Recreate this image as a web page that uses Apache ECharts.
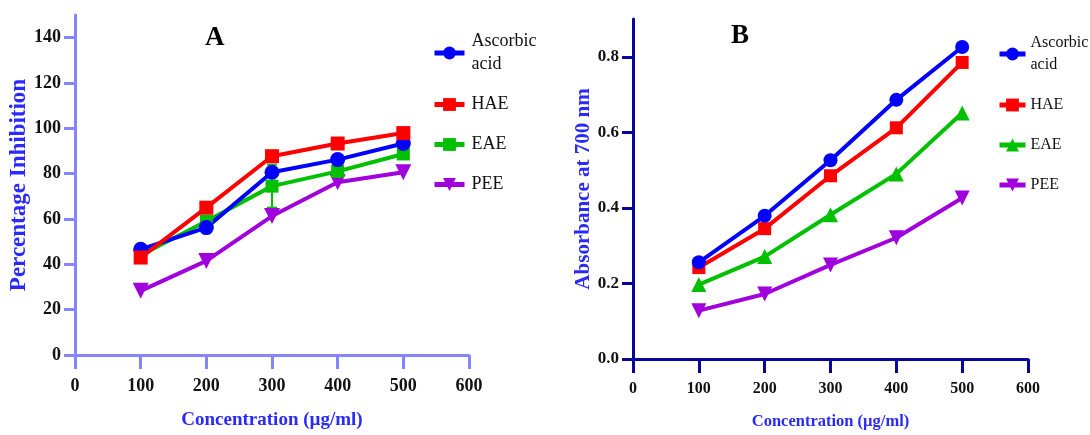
<!DOCTYPE html>
<html>
<head>
<meta charset="utf-8">
<script src="https://cdn.jsdelivr.net/npm/echarts@6/dist/echarts.min.js"></script>
<style>
html,body{margin:0;padding:0;background:#fff;}
#chart{width:1090px;height:435px;}
</style>
</head>
<body>
<div id="chart"></div>
<script>
// ---- data ----
var concentrations = [100, 200, 300, 400, 500];
var xTicks = [0, 100, 200, 300, 400, 500, 600];

// Panel A: Percentage inhibition
var ascorbicA = [46.6, 56.2, 80.6, 86.2, 93.3];
var haeA = [43.0, 65.0, 87.7, 93.3, 97.9];
var eaeA = [44.0, 59.0, 74.5, 81.0, 88.7];
var eaeErrA = [0.8, 1.2, 9.5, 1.0, 1.0];
var peeA = [28.3, 41.5, 61.3, 76.2, 80.6];
var yTicksA = [0, 20, 40, 60, 80, 100, 120, 140];

// Panel B: Absorbance at 700 nm
var ascorbicB = [0.256, 0.379, 0.526, 0.686, 0.826];
var haeB = [0.242, 0.345, 0.485, 0.612, 0.785];
var eaeB = [0.197, 0.271, 0.382, 0.490, 0.651];
var peeB = [0.128, 0.172, 0.249, 0.321, 0.426];
var yTicksB = [0, 0.2, 0.4, 0.6, 0.8];

var legendNames = ['Ascorbic acid', 'HAE', 'EAE', 'PEE'];

// ---- styles ----
var C_BLUE = '#0000ff', C_RED = '#ff0000', C_GREEN = '#00c000', C_PURPLE = '#a000dc';
var SERIF = '"Liberation Serif", "Times New Roman", serif';
var axisColA = '#8585ff', axisColB = '#06069a', titleCol = '#2a2aff';

function pairs(vals) { return concentrations.map(function (c, i) { return [c, vals[i]]; }); }

function lineSeries(name, vals, color, symbol, size, xi, rot) {
  return {
    name: name, type: 'line', xAxisIndex: xi, yAxisIndex: xi,
    data: pairs(vals), symbol: symbol, symbolSize: size, symbolRotate: rot || 0,
    lineStyle: { color: color, width: 4 },
    itemStyle: { color: color },
    emphasis: { disabled: true }, animation: false, z: 3
  };
}

function xAxis(gi, col, fs, nfs) {
  return {
    type: 'value', gridIndex: gi, min: 0, max: 600, interval: 100,
    name: 'Concentration (µg/ml)', nameLocation: 'middle', nameGap: gi === 0 ? 56 : 54,
    nameTextStyle: { color: titleCol, fontFamily: SERIF, fontWeight: 'bold', fontSize: nfs },
    axisLine: { lineStyle: { color: col, width: 3 } },
    axisTick: { length: 14, lineStyle: { color: col, width: 3 } },
    axisLabel: { color: '#111', fontFamily: SERIF, fontWeight: 'bold', fontSize: fs, margin: 22 },
    splitLine: { show: false }
  };
}

function yAxis(gi, col, max, ticks, name, fs, nfs, gap, fmt) {
  return {
    type: 'value', gridIndex: gi, min: 0, max: max,
    name: name, nameLocation: 'middle', nameGap: gap,
    nameTextStyle: { color: titleCol, fontFamily: SERIF, fontWeight: 'bold', fontSize: nfs },
    axisLine: { onZero: false, lineStyle: { color: col, width: 3 } },
    axisTick: { length: 11, customValues: ticks, lineStyle: { color: col, width: 3 } },
    axisLabel: { customValues: ticks, color: '#111', fontFamily: SERIF, fontWeight: 'bold', fontSize: fs, margin: 14, formatter: fmt },
    splitLine: { show: false }
  };
}

function legend(left, top, sfx, fs, gap, iw, pad, lh) {
  return {
    orient: 'vertical', left: left, top: top, itemWidth: iw, itemHeight: 16, itemGap: gap,
    data: legendNames.map(function (n) { return n + sfx; }),
    formatter: function (n) { n = n.trim(); return n === 'Ascorbic acid' ? 'Ascorbic\nacid' : n; },
    textStyle: { fontFamily: SERIF, fontSize: fs, color: '#111', lineHeight: lh, padding: [0, 0, 0, pad] },
    lineStyle: { width: 5 },
    selectedMode: false
  };
}

var option = {
  backgroundColor: '#ffffff',
  animation: false,
  title: [
    { text: 'A', left: 200, top: 20, textStyle: { fontFamily: SERIF, fontWeight: 'bold', fontSize: 27, color: '#000' } },
    { text: 'B', left: 726, top: 18, textStyle: { fontFamily: SERIF, fontWeight: 'bold', fontSize: 27, color: '#000' } }
  ],
  grid: [
    { left: 75, top: 15, width: 394, height: 341 },
    { left: 633, top: 19, width: 395, height: 343 }
  ],
  legend: [legend(427, 25, '', 18, 17, 30, 2, 23), legend(992, 27, ' ', 16, 18, 26, 0, 22)],
  xAxis: [xAxis(0, axisColA, 18, 19), xAxis(1, axisColB, 16, 16.5)],
  yAxis: [
    yAxis(0, axisColA, 150, yTicksA, 'Percentage Inhibition', 18, 23, 44, null),
    yAxis(1, axisColB, 0.9, yTicksB, 'Absorbance at 700 nm', 17, 21, 37, function (v) { return v.toFixed(1); })
  ],
  series: [
    {
      type: 'custom', xAxisIndex: 0, yAxisIndex: 0, z: 2, silent: true,
      data: concentrations.map(function (c, i) { return [c, eaeA[i], eaeErrA[i]]; }),
      renderItem: function (params, api) {
        var x = api.value(0), y = api.value(1), e = api.value(2);
        var lo = api.coord([x, y - e]), hi = api.coord([x, y + e]);
        var st = { stroke: C_GREEN, lineWidth: 2 };
        return {
          type: 'group', children: [
            { type: 'line', shape: { x1: lo[0], y1: lo[1], x2: hi[0], y2: hi[1] }, style: st },
            { type: 'line', shape: { x1: lo[0] - 5, y1: lo[1], x2: lo[0] + 5, y2: lo[1] }, style: st },
            { type: 'line', shape: { x1: hi[0] - 5, y1: hi[1], x2: hi[0] + 5, y2: hi[1] }, style: st }
          ]
        };
      }
    },
    lineSeries('PEE', peeA, C_PURPLE, 'triangle', 16, 0, 180),
    lineSeries('EAE', eaeA, C_GREEN, 'rect', 13, 0),
    lineSeries('Ascorbic acid', ascorbicA, C_BLUE, 'circle', 15, 0),
    lineSeries('HAE', haeA, C_RED, 'rect', 14, 0),
    lineSeries('PEE ', peeB, C_PURPLE, 'triangle', 15, 1, 180),
    lineSeries('EAE ', eaeB, C_GREEN, 'triangle', 15, 1),
    lineSeries('HAE ', haeB, C_RED, 'rect', 13, 1),
    lineSeries('Ascorbic acid ', ascorbicB, C_BLUE, 'circle', 14, 1)
  ]
};

var chart = echarts.init(document.getElementById('chart'), null, { renderer: 'canvas' });
chart.setOption(option);
</script>
</body>
</html>
